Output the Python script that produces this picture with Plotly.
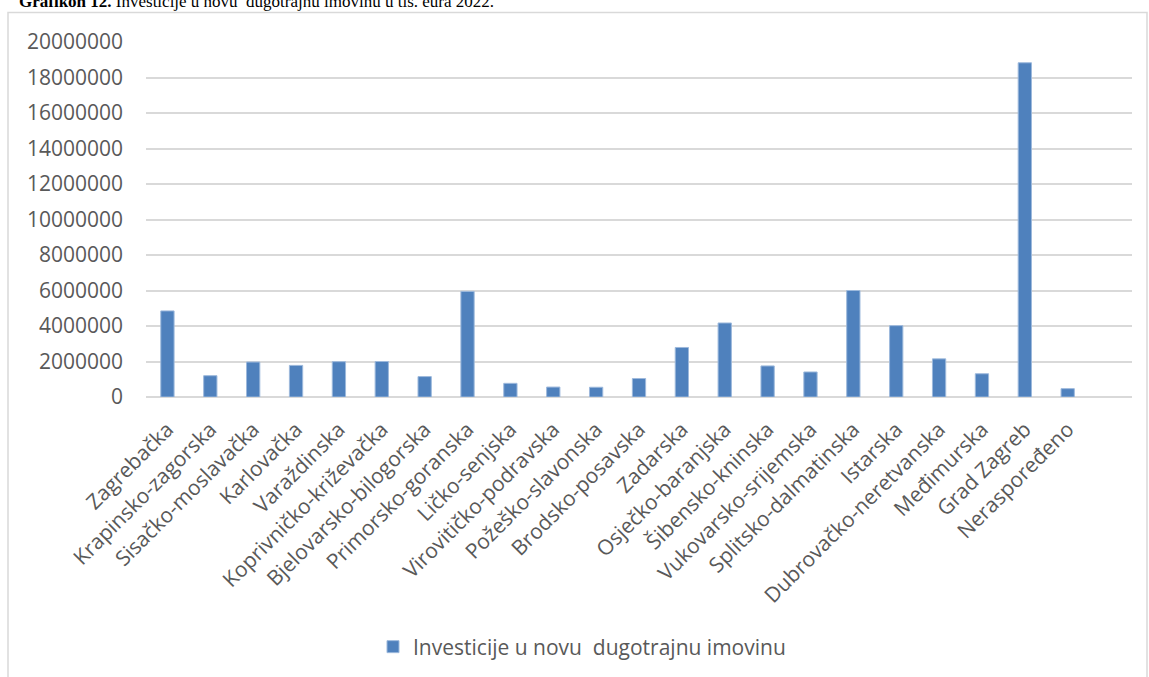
import plotly.graph_objects as go

categories = ["Zagrebačka", "Krapinsko-zagorska", "Sisačko-moslavačka", "Karlovačka",
              "Varaždinska", "Koprivničko-križevačka", "Bjelovarsko-bilogorska",
              "Primorsko-goranska", "Ličko-senjska", "Virovitičko-podravska",
              "Požeško-slavonska", "Brodsko-posavska", "Zadarska", "Osječko-baranjska",
              "Šibensko-kninska", "Vukovarsko-srijemska", "Splitsko-dalmatinska",
              "Istarska", "Dubrovačko-neretvanska", "Međimurska", "Grad Zagreb",
              "Neraspoređeno"]
values = [4850000, 1200000, 1970000, 1780000, 1990000, 2000000, 1150000, 5950000,
          770000, 560000, 550000, 1040000, 2790000, 4170000, 1750000, 1410000,
          6000000, 4020000, 2150000, 1310000, 18830000, 470000]
series_name = "Investicije u novu\u00a0 dugotrajnu imovinu"
y_ticks = [0, 2000000, 4000000, 6000000, 8000000, 10000000, 12000000,
           14000000, 16000000, 18000000, 20000000]
title_text = "<b>Grafikon 12.</b> Investicije u novu\u00a0 dugotrajnu imovinu u tis. eura 2022."

FONT = "Open Sans"
GRAY = "#595959"

fig = go.Figure()
fig.add_trace(go.Bar(
    x=categories, y=values, name=series_name,
    marker=dict(color="#4F81BD", line=dict(color="#9DB9DC", width=1)),
    width=0.31, showlegend=True,
))

L, R, T, B = 146, 17, 42, 279
W, H = 1149, 677
pw = W - L - R
ph = H - T - B

def px_x(x):
    return (x - L) / pw

def px_y(y):
    return (H - B - y) / ph

fig.update_layout(
    width=W, height=H,
    margin=dict(l=L, r=R, t=T, b=B),
    paper_bgcolor="white", plot_bgcolor="white",
    font=dict(family=FONT, color=GRAY, size=21),
    xaxis=dict(
        type="category", range=[-0.5, 22.5], tickangle=-45,
        showgrid=False, showline=False, ticks="",
        ticklabelstandoff=15,
        tickfont=dict(family=FONT, size=21, color=GRAY),
    ),
    yaxis=dict(
        range=[0, 20000000], tickvals=y_ticks,
        ticktext=[str(v) for v in y_ticks],
        showgrid=True, gridcolor="#D9D9D9", gridwidth=1.5,
        zeroline=True, zerolinecolor="#D9D9D9", zerolinewidth=1.5,
        ticklabelstandoff=22,
        tickfont=dict(family=FONT, size=21, color=GRAY),
    ),
    legend=dict(
        orientation="h", x=px_x(582), xanchor="center", y=px_y(647), yanchor="middle",
        font=dict(family=FONT, size=21, color=GRAY), bgcolor="rgba(0,0,0,0)",
        itemwidth=30,
    ),
    shapes=[dict(type="rect", xref="paper", yref="paper",
                 x0=px_x(8), x1=px_x(1147), y0=px_y(700), y1=px_y(12.5),
                 line=dict(color="#D9D9D9", width=1.5), fillcolor="rgba(0,0,0,0)",
                 layer="below")],
    annotations=[dict(text=title_text, xref="paper", yref="paper",
                      x=px_x(18), y=px_y(11.5), xanchor="left", yanchor="bottom",
                      showarrow=False, borderpad=0,
                      font=dict(family="Liberation Serif", size=17, color="black"))],
)

fig.write_html("out.html", config={"displayModeBar": False},
               post_script="document.body.style.margin='0px';")
